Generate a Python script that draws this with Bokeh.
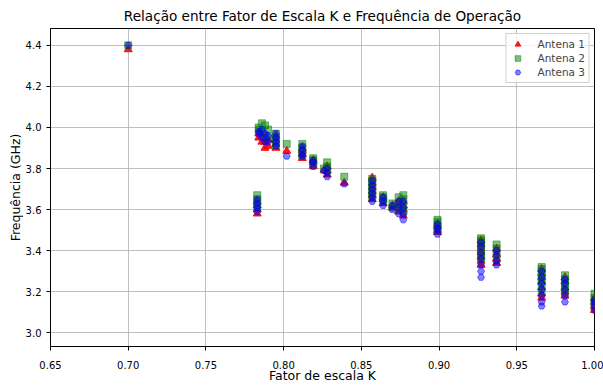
from bokeh.plotting import figure
from bokeh.models import FixedTicker, NumeralTickFormatter, Range1d, Legend, LegendItem
from bokeh.embed import file_html
from bokeh.resources import INLINE

# Scale factor K for each simulated geometry
K = [
    0.700,
    0.783, 0.783, 0.783, 0.783,
    0.784, 0.784, 0.786, 0.786, 0.788, 0.788, 0.790, 0.790,
    0.795, 0.795, 0.795, 0.795,
    0.802,
    0.812, 0.812, 0.812, 0.812,
    0.819, 0.819, 0.819,
    0.826, 0.828, 0.828, 0.828,
    0.839,
    0.857, 0.857, 0.857, 0.857, 0.857, 0.857,
    0.864, 0.864, 0.864,
    0.870, 0.870,
    0.874, 0.874, 0.874, 0.877, 0.877, 0.877, 0.877,
    0.899, 0.899, 0.899, 0.899,
    0.927, 0.927, 0.927, 0.927, 0.927, 0.927, 0.927,
    0.937, 0.937, 0.937, 0.937,
    0.966, 0.966, 0.966, 0.966, 0.966, 0.966, 0.966,
    0.981, 0.981, 0.981, 0.981, 0.981,
    1.000, 1.000, 1.000, 1.000,
]

# Operating frequency (GHz) per antenna
freq_ant1 = [
    4.38,
    3.58, 3.60, 3.62, 3.64,
    3.95, 3.97, 3.93, 3.96, 3.90, 3.93, 3.91, 3.94,
    3.90, 3.92, 3.94, 3.96,
    3.885,
    3.85, 3.87, 3.89, 3.90,
    3.81, 3.83, 3.84,
    3.79, 3.77, 3.79, 3.81,
    3.73,
    3.65, 3.67, 3.69, 3.71, 3.73, 3.755,
    3.63, 3.65, 3.66,
    3.61, 3.62,
    3.59, 3.62, 3.64, 3.57, 3.60, 3.62, 3.64,
    3.49, 3.50, 3.52, 3.53,
    3.33, 3.35, 3.37, 3.39, 3.41, 3.43, 3.45,
    3.34, 3.36, 3.38, 3.41,
    3.17, 3.19, 3.22, 3.25, 3.27, 3.29, 3.31,
    3.18, 3.20, 3.22, 3.25, 3.27,
    3.11, 3.13, 3.15, 3.17,
]
freq_ant2 = [
    4.40,
    3.61, 3.63, 3.65, 3.67,
    3.99, 4.00, 3.98, 4.02, 3.96, 4.01, 3.95, 3.99,
    3.91, 3.93, 3.95, 3.97,
    3.92,
    3.86, 3.88, 3.90, 3.92,
    3.82, 3.84, 3.85,
    3.80, 3.79, 3.81, 3.83,
    3.76,
    3.66, 3.68, 3.70, 3.72, 3.74, 3.75,
    3.64, 3.66, 3.67,
    3.61, 3.63,
    3.60, 3.63, 3.66, 3.59, 3.62, 3.65, 3.67,
    3.50, 3.52, 3.54, 3.55,
    3.36, 3.38, 3.40, 3.42, 3.44, 3.45, 3.46,
    3.36, 3.39, 3.41, 3.43,
    3.20, 3.23, 3.25, 3.27, 3.29, 3.31, 3.32,
    3.20, 3.22, 3.24, 3.26, 3.28,
    3.13, 3.15, 3.17, 3.19,
]
freq_ant3 = [
    4.40,
    3.59, 3.61, 3.63, 3.65,
    3.97, 3.98, 3.95, 3.99, 3.93, 3.97, 3.93, 3.96,
    3.91, 3.93, 3.95, 3.97,
    3.86,
    3.86, 3.87, 3.89, 3.91,
    3.81, 3.83, 3.84,
    3.79, 3.76, 3.78, 3.80,
    3.725,
    3.64, 3.66, 3.68, 3.70, 3.72, 3.74,
    3.62, 3.64, 3.66,
    3.60, 3.62,
    3.58, 3.61, 3.64, 3.55, 3.58, 3.61, 3.64,
    3.48, 3.50, 3.51, 3.53,
    3.27, 3.30, 3.33, 3.36, 3.39, 3.42, 3.44,
    3.33, 3.35, 3.38, 3.40,
    3.13, 3.15, 3.18, 3.21, 3.24, 3.27, 3.30,
    3.15, 3.18, 3.21, 3.24, 3.26,
    3.11, 3.13, 3.15, 3.16,
]

x_ticks = [0.65, 0.70, 0.75, 0.80, 0.85, 0.90, 0.95, 1.00]
y_ticks = [3.0, 3.2, 3.4, 3.6, 3.8, 4.0, 4.2, 4.4]

FONT = "DejaVu Sans"

p = figure(
    width=603, height=385,
    output_backend="svg", toolbar_location=None,
    x_range=Range1d(0.65, 1.00), y_range=Range1d(2.933, 4.482),
    title="Relação entre Fator de Escala K e Frequência de Operação",
    x_axis_label="Fator de escala K", y_axis_label="Frequência (GHz)",
    min_border_left=50, min_border_right=9, min_border_top=6, min_border_bottom=36,
)
p.background_fill_color = "white"
p.border_fill_color = "white"
p.outline_line_color = "black"
p.outline_line_width = 1

p.title.text_font = FONT
p.title.text_font_size = "13.6px"
p.title.text_font_style = "normal"
p.title.align = "center"
p.title.text_color = "black"

for ax in (p.xaxis[0], p.yaxis[0]):
    ax.axis_label_text_font = FONT
    ax.axis_label_text_font_size = "12.5px"
    ax.axis_label_text_font_style = "normal"
    ax.axis_label_text_color = "black"
    ax.major_label_text_font = FONT
    ax.major_label_text_font_size = "10px"
    ax.major_label_text_color = "black"
    ax.axis_line_color = "black"
    ax.major_tick_line_color = "black"
    ax.major_tick_out = 4
    ax.major_tick_in = 0
    ax.minor_tick_line_color = None

p.xaxis.major_label_standoff = 10
p.xaxis.axis_label_standoff = -4
p.yaxis.major_label_standoff = 5
p.yaxis.axis_label_standoff = 0

p.xaxis.ticker = FixedTicker(ticks=x_ticks)
p.yaxis.ticker = FixedTicker(ticks=y_ticks)
p.xaxis.formatter = NumeralTickFormatter(format="0.00")
p.yaxis.formatter = NumeralTickFormatter(format="0.0")

p.grid.grid_line_color = "#b0b0b0"
p.grid.grid_line_alpha = 0.8
p.grid.grid_line_width = 1

r1 = p.scatter(K, freq_ant1, marker="triangle", size=8,
               fill_color="red", line_color="red", fill_alpha=0.9, line_alpha=0.9)
r2 = p.scatter(K, freq_ant2, marker="square", size=7,
               fill_color="green", line_color="green", fill_alpha=0.5, line_alpha=0.5)
r3 = p.scatter(K, freq_ant3, marker="hex", size=7,
               fill_color="blue", line_color="blue", fill_alpha=0.5, line_alpha=0.5)

legend = Legend(items=[
    LegendItem(label="Antena 1", renderers=[r1]),
    LegendItem(label="Antena 2", renderers=[r2]),
    LegendItem(label="Antena 3", renderers=[r3]),
], location="top_right")
legend.label_text_font = FONT
legend.label_text_font_size = "10.5px"
legend.border_line_color = "#d0d0d0"
legend.border_line_alpha = 1
legend.background_fill_alpha = 0.8
legend.glyph_width = 16
legend.glyph_height = 14
legend.spacing = 0
legend.padding = 3
legend.margin = 5
legend.label_height = 14
legend.label_standoff = 12
p.add_layout(legend)

open("out.html", "w").write(file_html(p, INLINE))
